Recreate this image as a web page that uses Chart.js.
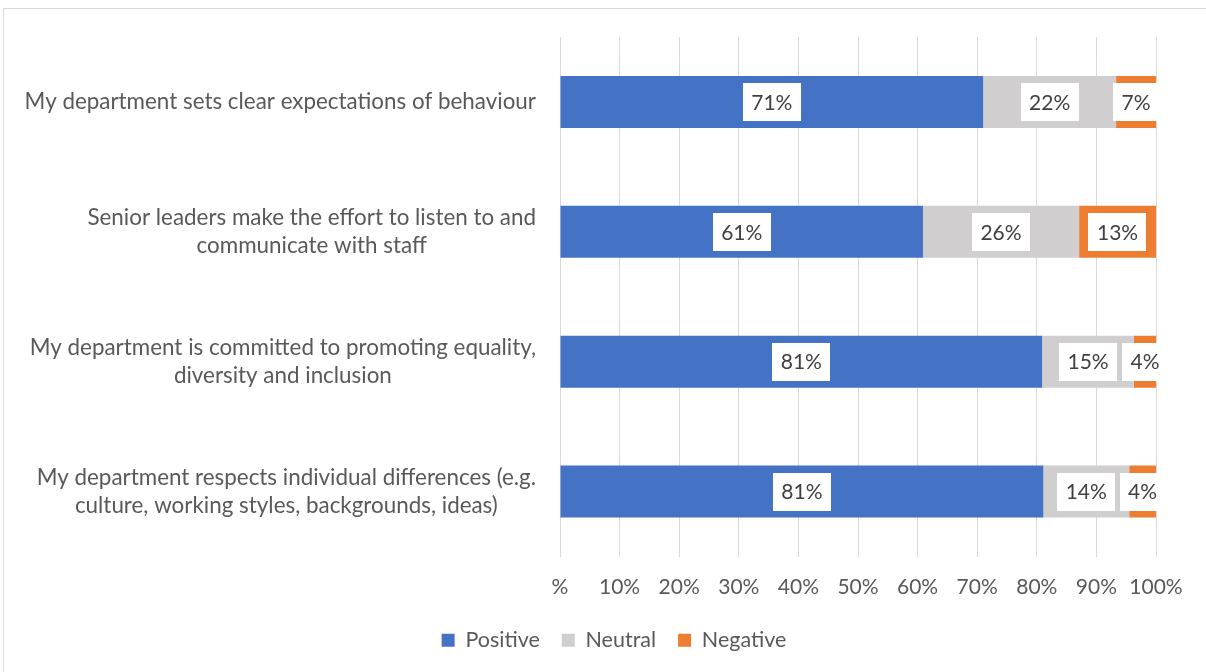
<!DOCTYPE html>
<html>
<head>
<meta charset="utf-8">
<script src="https://cdn.jsdelivr.net/npm/chart.js@4"></script>
<style>
  html, body { margin: 0; padding: 0; background: #fff; overflow: hidden; }
  #wrap { position: relative; width: 1206px; height: 672px; }
  #frame { position: absolute; left: 3px; top: 8px; width: 1220px; height: 700px; border: 1px solid #d9d9d9; box-sizing: border-box; }
  canvas { position: absolute; left: 0; top: 0; }
</style>
</head>
<body>
<div id="wrap">
  <div id="frame"></div>
  <canvas id="c" width="1206" height="672"></canvas>
</div>
<script>
const categories = [
  ['My department sets clear expectations of behaviour'],
  ['Senior leaders make the effort to listen to and', 'communicate with staff'],
  ['My department is committed to promoting equality,', 'diversity and inclusion'],
  ['My department respects individual differences (e.g.', 'culture, working styles, backgrounds, ideas)']
];
const seriesNames = ['Positive', 'Neutral', 'Negative'];
const positive = [71.0, 60.9, 80.9, 81.1];
const neutral  = [22.3, 26.2, 15.4, 14.4];
const negative = [6.7, 12.9, 3.7, 4.49];
const tickValues = [0, 10, 20, 30, 40, 50, 60, 70, 80, 90, 100];

const FONT = 'Lato, "Open Sans", sans-serif';
const TEXT = '#595959';

const yLabelPlugin = {
  id: 'yLabels',
  afterDraw(chart) {
    const ctx = chart.ctx;
    const ys = chart.scales.y;
    const right = chart.chartArea.left - 24;
    ctx.save();
    ctx.font = '22.4px ' + FONT;
    ctx.fillStyle = TEXT;
    ctx.textAlign = 'center';
    ctx.textBaseline = 'middle';
    categories.forEach((lines, i) => {
      const y = ys.getPixelForValue(i);
      const w = Math.max(...lines.map(l => ctx.measureText(l).width));
      const cx = right - w / 2;
      lines.forEach((l, j) => {
        ctx.fillText(l, cx, y + (j - (lines.length - 1) / 2) * 28);
      });
    });
    ctx.restore();
  }
};

const dataLabelPlugin = {
  id: 'boxLabels',
  afterDatasetsDraw(chart) {
    const ctx = chart.ctx;
    ctx.save();
    ctx.font = '21px ' + FONT;
    ctx.textAlign = 'center';
    ctx.textBaseline = 'middle';
    chart.data.datasets.forEach((ds, di) => {
      const meta = chart.getDatasetMeta(di);
      meta.data.forEach((bar, i) => {
        const txt = Math.round(ds.data[i]) + '%';
        const cx = (bar.x + bar.base) / 2;
        const cy = bar.y;
        const tw = ctx.measureText(txt).width;
        const bw = tw + 17, bh = 38;
        ctx.fillStyle = '#ffffff';
        ctx.fillRect(Math.round(cx - bw / 2), Math.round(cy - bh / 2), Math.round(bw), bh);
        ctx.fillStyle = '#404040';
        ctx.fillText(txt, cx, cy + 1);
      });
    });
    ctx.restore();
  }
};

new Chart(document.getElementById('c'), {
  type: 'bar',
  data: {
    labels: categories.map(l => l.join(' ')),
    datasets: [
      { label: seriesNames[0], data: positive, backgroundColor: '#4472C4' },
      { label: seriesNames[1], data: neutral, backgroundColor: '#D0CECE' },
      { label: seriesNames[2], data: negative, backgroundColor: '#ED7D31' }
    ]
  },
  options: {
    indexAxis: 'y',
    responsive: false,
    animation: false,
    layout: { padding: { left: 72, right: 50, top: 37, bottom: 11 } },
    datasets: { bar: { barPercentage: 0.4, categoryPercentage: 1.0, borderWidth: 0 } },
    scales: {
      x: {
        stacked: true,
        min: 0, max: 100,
        afterBuildTicks: s => { s.ticks = tickValues.map(v => ({ value: v })); },
        afterFit: s => { s.height = 51; },
        grid: { color: '#d9d9d9', lineWidth: 1, drawTicks: false },
        border: { display: false },
        ticks: {
          padding: 18,
          maxRotation: 0, minRotation: 0, autoSkip: false,
          color: TEXT,
          font: { family: FONT, size: 21 },
          callback: v => (v === 0 ? '%' : v + '%')
        }
      },
      y: {
        stacked: true,
        afterFit: s => { s.width = 488; },
        grid: { display: false },
        border: { display: false },
        ticks: { display: false }
      }
    },
    plugins: {
      legend: {
        position: 'bottom',
        labels: {
          boxWidth: 13, boxHeight: 13, padding: 22,
          color: TEXT,
          font: { family: FONT, size: 21.5 }
        }
      },
      tooltip: { enabled: false }
    }
  },
  plugins: [yLabelPlugin, dataLabelPlugin]
});
</script>
</body>
</html>
